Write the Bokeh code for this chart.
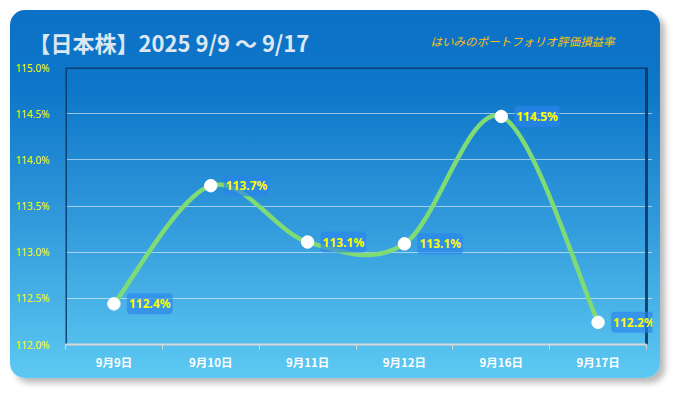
from bokeh.plotting import figure
from bokeh.models import Range1d, FixedTicker, CustomJSTickFormatter, PrintfTickFormatter, Label
from bokeh.core.properties import value
from bokeh.embed import file_html
from bokeh.resources import INLINE

# ---- data ----
dates = ["9月9日", "9月10日", "9月11日", "9月12日", "9月16日", "9月17日"]
values = [112.44, 113.72, 113.11, 113.09, 114.47, 112.24]
y_ticks = [112.0, 112.5, 113.0, 113.5, 114.0, 114.5, 115.0]
title_text = "【日本株】2025 9/9 ～ 9/17"
subtitle_text = "はいみのポートフォリオ評価損益率"

n = len(dates)
xs = [i + 0.5 for i in range(n)]
labels = [f"{v:.1f}%" for v in values]
y_lo, y_hi = y_ticks[0], y_ticks[-1]

p = figure(width=650, height=368, output_backend="svg", toolbar_location=None,
           x_range=Range1d(0, n * 587 / 581), y_range=Range1d(y_lo, y_hi),
           min_border_left=55, min_border_right=8, min_border_top=57, min_border_bottom=34,
           styles={"background": "linear-gradient(to bottom, #0B71C6 0%, #0E77C9 22%, #2F97DA 55%, #5DC9F2 100%)",
                   "border-radius": "15px",
                   "box-shadow": "5px 5px 6px rgba(0,0,0,0.28)",
                   "margin": "10px"})
p.border_fill_color = None
p.background_fill_color = None
p.outline_line_color = None

# title and subtitle in the top panel (not clipped by the plot frame); panels stack upward
p.add_layout(Label(x=-37, y=26, x_units="screen", y_units="screen", text=title_text,
                   text_font="Noto Sans CJK JP", text_font_style="bold", text_font_size="22px",
                   text_color="#DDE7F1", text_baseline="middle"), "above")
p.add_layout(Label(x=365, y=-5, x_units="screen", y_units="screen", text=subtitle_text,
                   text_font="Noto Sans CJK JP", text_font_style="italic", text_font_size="11.5px",
                   text_color="#FFC20E", text_baseline="middle"), "above")

# plot-area border (left, top, right)
p.line(x=[0, 0, n, n], y=[y_lo, y_hi, y_hi, y_lo], line_color="#0A3766", line_width=3, line_alpha=0.9)

# grid
p.xgrid.grid_line_color = None
p.ygrid.ticker = FixedTicker(ticks=y_ticks)
p.ygrid.grid_line_color = "white"
p.ygrid.grid_line_alpha = 0.55
p.ygrid.grid_line_width = 1
p.ygrid.bounds = (0, n)

# y axis
p.yaxis.ticker = FixedTicker(ticks=y_ticks)
p.yaxis.formatter = PrintfTickFormatter(format="%.1f%%")
p.yaxis.axis_line_color = None
p.yaxis.major_tick_line_color = None
p.yaxis.minor_tick_line_color = None
p.yaxis.major_label_text_color = "#FFFF00"
p.yaxis.major_label_text_font = "Noto Sans"
p.yaxis.major_label_text_font_size = "10px"
p.yaxis.major_label_standoff = 10

# x axis
p.xaxis.ticker = FixedTicker(ticks=xs, minor_ticks=list(range(n + 1)))
p.xaxis.formatter = CustomJSTickFormatter(args=dict(labels=dates),
                                          code="return labels[Math.floor(tick)] || '';")
p.xaxis.bounds = (0, n)
p.xaxis.major_tick_line_color = None
p.xaxis.minor_tick_line_color = "#D8D8D8"
p.xaxis.minor_tick_out = 5
p.xaxis.minor_tick_in = 0
p.xaxis.axis_line_color = "#D8D8D8"
p.xaxis.axis_line_width = 2
p.xaxis.major_label_text_color = "white"
p.xaxis.major_label_text_font = "Noto Sans CJK JP"
p.xaxis.major_label_text_font_style = "bold"
p.xaxis.major_label_text_font_size = "11.5px"
p.xaxis.major_label_standoff = 3

# smooth line (Catmull-Rom style bezier through the data points)
x0s, y0s, x1s, y1s, cx0s, cy0s, cx1s, cy1s = [], [], [], [], [], [], [], []
for i in range(n - 1):
    pa = i - 1 if i > 0 else i
    pd = i + 2 if i + 2 < n else i + 1
    x0s.append(xs[i]); y0s.append(values[i])
    x1s.append(xs[i + 1]); y1s.append(values[i + 1])
    cx0s.append(xs[i] + (xs[i + 1] - xs[pa]) / 6)
    cy0s.append(values[i] + (values[i + 1] - values[pa]) / 6)
    cx1s.append(xs[i + 1] - (xs[pd] - xs[i]) / 6)
    cy1s.append(values[i + 1] - (values[pd] - values[i]) / 6)
p.bezier(x0=x0s, y0=y0s, x1=x1s, y1=y1s, cx0=cx0s, cy0=cy0s, cx1=cx1s, cy1=cy1s,
         line_color="#7FDB74", line_width=4.5, line_cap="round")

p.scatter(xs, values, size=12.5, fill_color="white", line_color="white")

p.text(x=xs, y=values, text=labels, x_offset=13, text_align="left", text_baseline="middle",
       text_font=value("Noto Sans"), text_font_style="bold", text_font_size="12px",
       text_color="#FFFF00", background_fill_color="#2B84EC", background_fill_alpha=0.65,
       border_radius=4, padding=2)

open("out.html", "w").write(file_html(p, INLINE))
